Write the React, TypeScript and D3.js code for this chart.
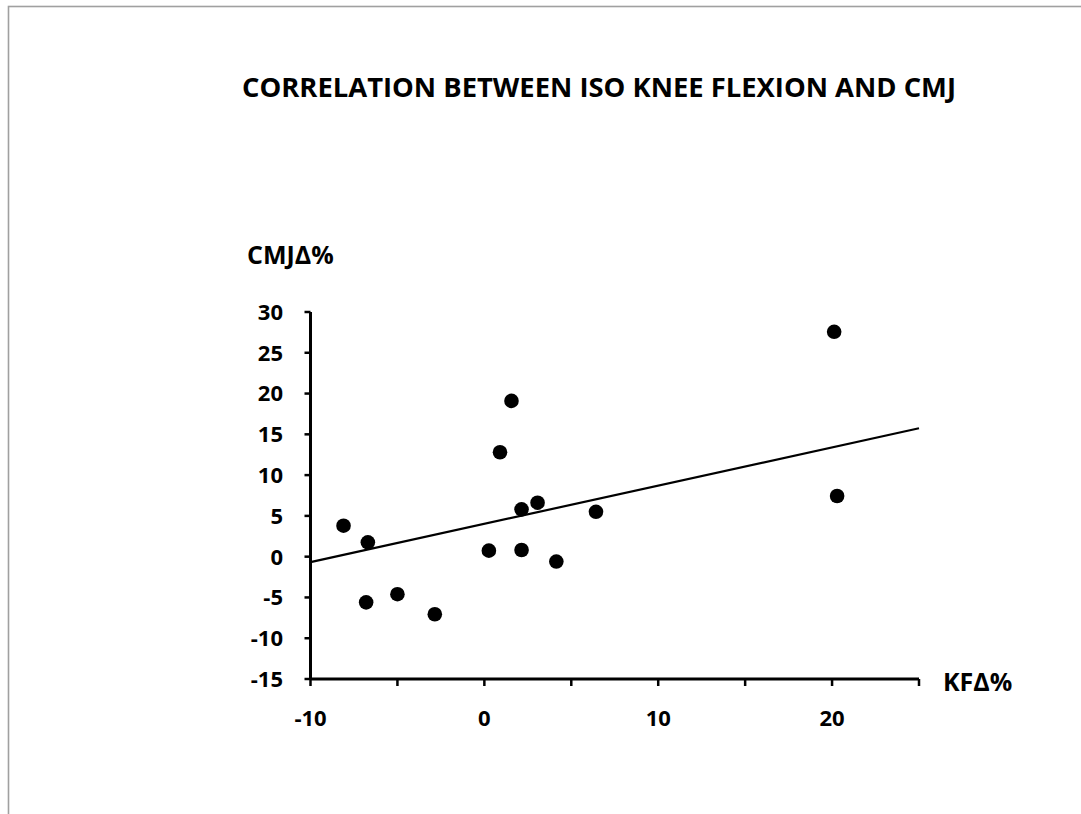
import React from "react";
import * as d3 from "d3";

const kfDelta = [-8.1, -6.7, -6.8, -5.0, -2.85, 0.26, 0.9, 1.56, 2.14, 2.14, 3.06, 4.14, 6.42, 20.12, 20.29];
const cmjDelta = [3.8, 1.76, -5.6, -4.6, -7.06, 0.74, 12.8, 19.1, 5.8, 0.82, 6.62, -0.6, 5.5, 27.57, 7.44];
const trendX = [-10, 25];
const trendY = [-0.67, 15.75];
const yTicks = [30, 25, 20, 15, 10, 5, 0, -5, -10, -15];
const xMinorTicks = [-10, -5, 0, 5, 10, 15, 20, 25];
const xLabels = [-10, 0, 10, 20];

const title = "CORRELATION BETWEEN ISO KNEE FLEXION AND CMJ";
const yTitle = "CMJΔ%";
const xTitle = "KFΔ%";

export default function App() {
  const W = 1081, H = 814;
  const x = d3.scaleLinear().domain([-10, 25]).range([310.5, 919]);
  const y = d3.scaleLinear().domain([-15, 30]).range([679, 312]);
  const font = "'Open Sans', sans-serif";
  const line = d3.line<number>().x((d) => x(trendX[d])).y((d) => y(trendY[d]));
  return (
    <svg width={W} height={H} style={{ position: "absolute", left: 0, top: 0 }} fontFamily={font}>
      <rect x={0} y={0} width={W} height={H} fill="#fff" />
      <rect x={8.5} y={6.5} width={3000} height={3000} fill="none" stroke="#a0a0a0" strokeWidth={1.6} />
      <text x={599} y={97} textAnchor="middle" fontSize={27} fontWeight={700} fill="#000" textLength={714} lengthAdjust="spacingAndGlyphs">{title}</text>
      <text x={247} y={264} fontSize={25} fontWeight={700} fill="#000">{yTitle}</text>
      <text x={943} y={691} fontSize={25} fontWeight={700} fill="#000">{xTitle}</text>
      {/* y axis */}
      <line x1={x(-10)} x2={x(-10)} y1={y(30)} y2={y(-15)} stroke="#000" strokeWidth={3} />
      {yTicks.map((t) => (
        <g key={t}>
          <line x1={x(-10) - 6} x2={x(-10)} y1={y(t)} y2={y(t)} stroke="#000" strokeWidth={2.5} />
          <text x={283} y={y(t)} dy="0.36em" textAnchor="end" fontSize={22} fontWeight={700} fill="#000">{t}</text>
        </g>
      ))}
      {/* x axis */}
      <line x1={x(-10)} x2={x(25)} y1={y(-15)} y2={y(-15)} stroke="#000" strokeWidth={3} />
      {xMinorTicks.map((t) => (
        <line key={t} x1={x(t)} x2={x(t)} y1={y(-15)} y2={y(-15) + 7} stroke="#000" strokeWidth={2.5} />
      ))}
      {xLabels.map((t) => (
        <text key={t} x={x(t)} y={726} textAnchor="middle" fontSize={22} fontWeight={700} fill="#000">{t}</text>
      ))}
      <path d={line([0, 1]) || ""} fill="none" stroke="#000" strokeWidth={2.2} />
      {kfDelta.map((v, i) => (
        <circle key={i} cx={x(v)} cy={y(cmjDelta[i])} r={7.3} fill="#000" />
      ))}
    </svg>
  );
}
